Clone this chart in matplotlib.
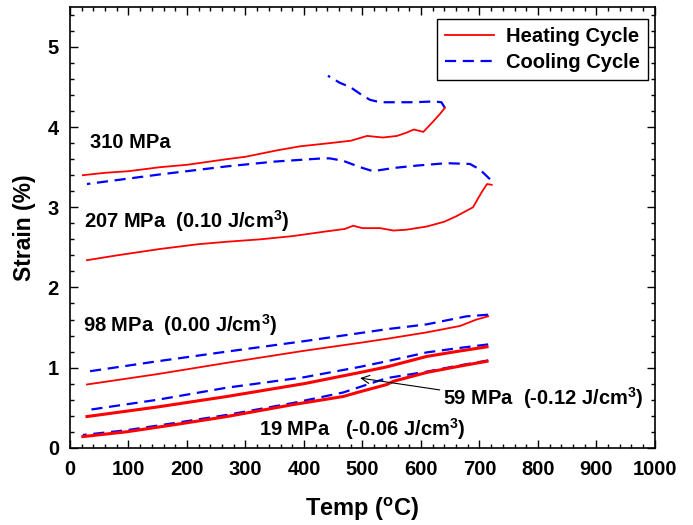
import matplotlib

matplotlib.use("Agg")
import matplotlib.pyplot as plt
from matplotlib.ticker import MultipleLocator

plt.rcParams["font.family"] = ["Liberation Sans", "DejaVu Sans"]
plt.rcParams["font.weight"] = "bold"
plt.rcParams["mathtext.fontset"] = "custom"
plt.rcParams["mathtext.rm"] = "Liberation Sans:bold"
plt.rcParams["mathtext.it"] = "Liberation Sans:bold"
plt.rcParams["mathtext.bf"] = "Liberation Sans:bold"

# --- data (temperature in C, strain in %) ---
heat_310_t = [22, 60, 100, 154, 200, 268, 300, 354, 393, 444, 480, 508, 535, 559, 575, 588, 604, 621, 632, 641]
heat_310_s = [3.40, 3.43, 3.45, 3.50, 3.53, 3.60, 3.63, 3.71, 3.76, 3.80, 3.83, 3.89, 3.87, 3.89, 3.93, 3.97, 3.94, 4.07, 4.16, 4.24]
cool_310_t = [641, 635, 621, 590, 564, 530, 513, 501, 479, 462, 441]
cool_310_s = [4.24, 4.31, 4.32, 4.31, 4.31, 4.31, 4.34, 4.39, 4.50, 4.55, 4.64]

heat_207_t = [29, 80, 154, 220, 268, 325, 380, 439, 470, 484, 500, 530, 553, 575, 610, 640, 661, 689, 704, 713, 721]
heat_207_s = [2.34, 2.40, 2.48, 2.54, 2.57, 2.60, 2.64, 2.70, 2.73, 2.77, 2.74, 2.74, 2.71, 2.72, 2.76, 2.82, 2.89, 3.00, 3.19, 3.29, 3.28]
cool_207_t = [718, 701, 684, 644, 593, 553, 518, 496, 467, 444, 432, 350, 268, 154, 29]
cool_207_s = [3.35, 3.47, 3.54, 3.55, 3.52, 3.49, 3.45, 3.50, 3.58, 3.61, 3.61, 3.57, 3.51, 3.41, 3.29]

heat_98_t = [29, 150, 268, 400, 496, 542, 610, 667, 695, 715]
heat_98_s = [0.79, 0.92, 1.06, 1.21, 1.31, 1.36, 1.44, 1.52, 1.60, 1.64]
cool_98_t = [715, 678, 610, 542, 400, 268, 150, 29]
cool_98_s = [1.66, 1.64, 1.54, 1.48, 1.33, 1.20, 1.08, 0.95]

heat_59_t = [29, 150, 268, 400, 496, 542, 610, 660, 713]
heat_59_s = [0.39, 0.51, 0.64, 0.80, 0.94, 1.01, 1.14, 1.20, 1.26]
cool_59_t = [715, 660, 610, 542, 496, 400, 268, 150, 29]
cool_59_s = [1.29, 1.24, 1.19, 1.08, 1.01, 0.88, 0.75, 0.60, 0.47]

heat_19_t = [22, 97, 180, 268, 382, 467, 496, 542, 553, 610, 660, 713]
heat_19_s = [0.14, 0.20, 0.29, 0.39, 0.54, 0.64, 0.70, 0.79, 0.83, 0.94, 1.01, 1.08]
cool_19_t = [715, 660, 610, 542, 496, 467, 382, 268, 180, 97, 22]
cool_19_s = [1.09, 1.02, 0.95, 0.87, 0.76, 0.69, 0.56, 0.41, 0.31, 0.22, 0.16]

heating = [
    (heat_310_t, heat_310_s, 1.3),
    (heat_207_t, heat_207_s, 1.3),
    (heat_98_t, heat_98_s, 1.3),
    (heat_59_t, heat_59_s, 2.2),
    (heat_19_t, heat_19_s, 2.2),
]
cooling = [
    (cool_310_t, cool_310_s),
    (cool_207_t, cool_207_s),
    (cool_98_t, cool_98_s),
    (cool_59_t, cool_59_s),
    (cool_19_t, cool_19_s),
]

fig = plt.figure(figsize=(6.93, 5.25), dpi=100)
ax = fig.add_axes([0.101, 0.147, 0.844, 0.840])

for i, (t, s) in enumerate(cooling):
    ax.plot(t, s, color="#0000ff", linestyle=(0, (5, 3)), linewidth=1.6,
            label="Cooling Cycle" if i == 0 else None)
for i, (t, s, lw) in enumerate(heating):
    ax.plot(t, s, color="#ff0000", linewidth=lw,
            label="Heating Cycle" if i == 0 else None)

ax.set_xlim(0, 1000)
ax.set_ylim(0, 5.5)
ax.xaxis.set_major_locator(MultipleLocator(100))
ax.xaxis.set_minor_locator(MultipleLocator(20))
ax.yaxis.set_major_locator(MultipleLocator(1))
ax.yaxis.set_minor_locator(MultipleLocator(0.2))
ax.tick_params(which="both", direction="in", top=True, right=True, labelsize=14.5, width=1)
ax.tick_params(which="major", length=6)
ax.tick_params(which="minor", length=3)
ax.tick_params(axis="x", which="major", pad=9)
ax.tick_params(axis="y", which="major", pad=8)
for sp in ax.spines.values():
    sp.set_linewidth(1.2)

ax.set_xlabel(r"Temp ($^{o}$C)", fontsize=17, fontweight="bold", labelpad=12)
ax.set_ylabel("Strain (%)", fontsize=16.5, fontweight="bold")
ax.yaxis.set_label_coords(-0.058, 0.5)

fs = 14.5
ax.text(34, 3.81, "310 MPa", fontsize=fs, fontweight="bold", va="center")
ax.text(24, 2.83, r"207 MPa  (0.10 J/cm$^{3}$)", fontsize=fs, fontweight="bold", va="center")
ax.text(22, 1.53, r"98 MPa  (0.00 J/cm$^{3}$)", fontsize=fs, fontweight="bold", va="center")
ax.text(323, 0.24, r"19 MPa   (-0.06 J/cm$^{3}$)", fontsize=fs, fontweight="bold", va="center")
ax.annotate(r"59 MPa  (-0.12 J/cm$^{3}$)", xy=(496, 0.87), xytext=(637, 0.62),
            fontsize=fs, fontweight="bold", va="center",
            arrowprops=dict(arrowstyle="->", color="black", linewidth=0.8,
                            shrinkA=0, shrinkB=0, relpos=(0, 0.8)))

handles, labels = ax.get_legend_handles_labels()
order = [labels.index("Heating Cycle"), labels.index("Cooling Cycle")]
leg = ax.legend([handles[i] for i in order], [labels[i] for i in order],
                loc="upper right", bbox_to_anchor=(0.998, 0.986), fontsize=14.5,
                fancybox=False, framealpha=1, edgecolor="black",
                handlelength=2.4, handletextpad=0.6, borderpad=0.4, labelspacing=0.35,
                borderaxespad=0.3)
leg.get_frame().set_linewidth(1.0)

fig.savefig("out.png", dpi=100)
